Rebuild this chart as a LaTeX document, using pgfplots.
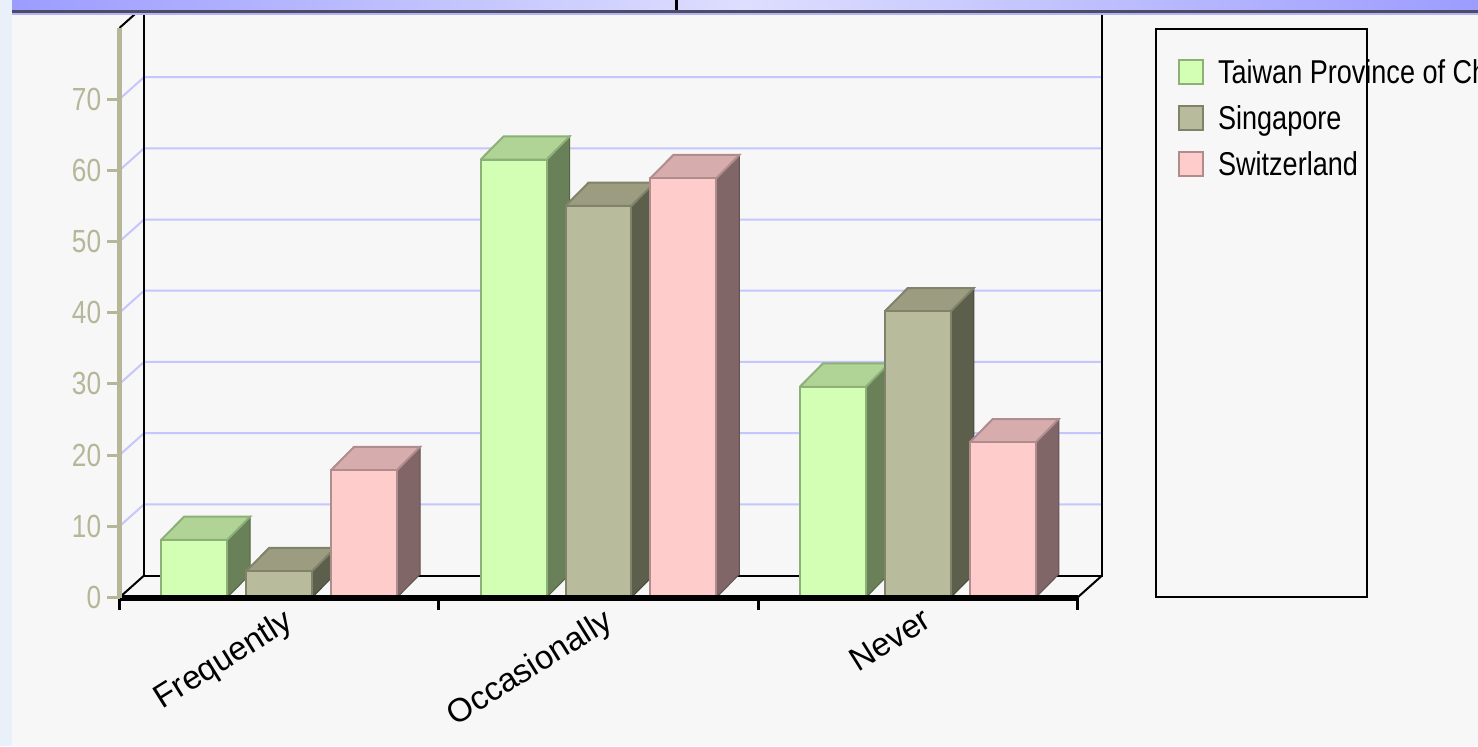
\documentclass[border=0pt]{standalone}
\usepackage{pgfplots}
\pgfplotsset{compat=1.18}
\usepackage{fontspec}
\setmainfont{Liberation Sans}
\newfontfamily\condfont{Liberation Sans}[FakeStretch=0.82]
\newcommand\legfont{\condfont\fontsize{16.5pt}{18pt}\selectfont}
\newcommand\tickfont{\condfont\fontsize{16pt}{18pt}\selectfont}
\newcommand\catfont{\fontsize{16.5pt}{18pt}\selectfont}

\definecolor{bgc}{HTML}{F7F7F7}
\definecolor{leftc}{HTML}{EAF0FA}
\definecolor{topA}{HTML}{9C9CFF}
\definecolor{topB}{HTML}{DEDEFF}
\definecolor{darkl}{HTML}{4C4C64}
\definecolor{lightl}{HTML}{B4B4F4}
\definecolor{tanc}{HTML}{B6B698}
\definecolor{gridc}{HTML}{C6C6FF}

\definecolor{twF}{HTML}{D2FFB4}
\definecolor{twT}{HTML}{B0D496}
\definecolor{twS}{HTML}{6A8058}
\definecolor{twE}{HTML}{8CB078}
\definecolor{sgF}{HTML}{B8BB9C}
\definecolor{sgT}{HTML}{9C9C80}
\definecolor{sgS}{HTML}{5C5F4B}
\definecolor{sgE}{HTML}{80826A}
\definecolor{swF}{HTML}{FFCCCC}
\definecolor{swT}{HTML}{D6ACAC}
\definecolor{swS}{HTML}{806666}
\definecolor{swE}{HTML}{B08C8C}

% 3D bar: center, value, front, top, side, edge
\newcommand\tdbar[6]{%
 \pgfmathsetmacro\xl{#1-0.1033}%
 \pgfmathsetmacro\xr{#1+0.1033}%
 \pgfmathsetmacro\xld{#1-0.1033+0.072}%
 \pgfmathsetmacro\xrd{#1+0.1033+0.072}%
 \pgfmathsetmacro\vt{#2+3.27}%
 \edef\doplot{%
  \noexpand\addplot[forget plot, fill=#5, draw=#5!80!black, line width=0.5pt] coordinates {(\xr,0) (\xrd,3.27) (\xrd,\vt) (\xr,#2) (\xr,0)};
  \noexpand\addplot[forget plot, fill=#4, draw=#6, line width=1pt] coordinates {(\xl,#2) (\xr,#2) (\xrd,\vt) (\xld,\vt) (\xl,#2)};
  \noexpand\addplot[forget plot, fill=#3, draw=#6, line width=1pt] coordinates {(\xl,0) (\xr,0) (\xr,#2) (\xl,#2) (\xl,0)};
 }\doplot}

\begin{document}
\begin{tikzpicture}
\useasboundingbox (0,0) rectangle (739pt,373pt);
\clip (0,0) rectangle (739pt,373pt);
\fill[bgc] (0,0) rectangle (739pt,373pt);
\fill[leftc] (0,0) rectangle (6pt,373pt);
\begin{axis}[
  at={(59.75pt,74.25pt)}, anchor=south west,
  scale only axis, width=479pt, height=284.8pt,
  xmin=-0.5, xmax=2.5, ymin=0, ymax=80,
  clip=false, axis on top,
  axis x line*=bottom, axis y line*=left,
  x axis line style={-, black, line width=3pt},
  y axis line style={-, tanc, line width=2.5pt},
  xtick={-0.5,0.5,1.5,2.5}, xticklabels={},
  ytick={0,10,...,70},
  tick align=outside, major tick length=6pt,
  every x tick/.style={black, line width=1.5pt},
  every y tick/.style={tanc, line width=1.5pt},
  yticklabel style={font=\tickfont, text=tanc, inner sep=0pt, xshift=-3pt},
  /pgf/number format/assume math mode=true,
  legend style={at={(1.105,0.9454)}, anchor=north west, draw=none, fill=none,
    inner sep=0pt, outer sep=0pt, font=\legfont, row sep=8pt, column sep=7pt,
    nodes={inner sep=0pt, text height=12pt, text depth=3pt}},
  legend cell align=left,
  legend image code/.code={\draw[#1, line width=1pt] (0.5pt,-5pt) rectangle (12.5pt,7pt);},
]
% back wall grid lines
\addplot[forget plot, gridc, line width=1pt] coordinates {(-0.5,10) (-0.423,13.09) (2.577,13.09)};
\addplot[forget plot, gridc, line width=1pt] coordinates {(-0.5,20) (-0.423,23.09) (2.577,23.09)};
\addplot[forget plot, gridc, line width=1pt] coordinates {(-0.5,30) (-0.423,33.09) (2.577,33.09)};
\addplot[forget plot, gridc, line width=1pt] coordinates {(-0.5,40) (-0.423,43.09) (2.577,43.09)};
\addplot[forget plot, gridc, line width=1pt] coordinates {(-0.5,50) (-0.423,53.09) (2.577,53.09)};
\addplot[forget plot, gridc, line width=1pt] coordinates {(-0.5,60) (-0.423,63.09) (2.577,63.09)};
\addplot[forget plot, gridc, line width=1pt] coordinates {(-0.5,70) (-0.423,73.09) (2.577,73.09)};
% back frame
\addplot[forget plot, black, line width=1pt] coordinates {(-0.423,84) (-0.423,3.09) (2.577,3.09) (2.577,84)};
\addplot[forget plot, black, line width=1pt] coordinates {(-0.5,0) (-0.423,3.09)};
\addplot[forget plot, black, line width=1pt] coordinates {(2.5,0) (2.577,3.09)};
\addplot[forget plot, black, line width=1pt] coordinates {(-0.5,80) (-0.423,83.09)};
% bars
\tdbar{-0.266}{8.1}{twF}{twT}{twS}{twE}
\tdbar{0}{3.7}{sgF}{sgT}{sgS}{sgE}
\tdbar{0.266}{17.9}{swF}{swT}{swS}{swE}
\tdbar{0.734}{61.5}{twF}{twT}{twS}{twE}
\tdbar{1}{55.0}{sgF}{sgT}{sgS}{sgE}
\tdbar{1.266}{58.9}{swF}{swT}{swS}{swE}
\tdbar{1.734}{29.6}{twF}{twT}{twS}{twE}
\tdbar{2}{40.2}{sgF}{sgT}{sgS}{sgE}
\tdbar{2.266}{21.8}{swF}{swT}{swS}{swE}
% category labels
\node[rotate=32, anchor=north east, inner sep=0pt, font=\catfont] at (axis cs:0.01,-1.2) {Frequently};
\node[rotate=32, anchor=north east, inner sep=0pt, font=\catfont] at (axis cs:1.01,-1.2) {Occasionally};
\node[rotate=32, anchor=north east, inner sep=0pt, font=\catfont] at (axis cs:2.01,-1.2) {Never};
% legend
\addlegendimage{fill=twF, draw=twE}
\addlegendentry{Taiwan Province of China}
\addlegendimage{fill=sgF, draw=sgE}
\addlegendentry{Singapore}
\addlegendimage{fill=swF, draw=swE}
\addlegendentry{Switzerland}
\end{axis}
\begin{scope}[shift={(0pt,373pt)}, x=0.5pt, y=-0.5pt]
  \shade[left color=topA, right color=topA, middle color=topB] (12,0) rectangle (1478,10);
  \fill[darkl] (12,10) rectangle (1478,13);
  \fill[lightl] (12,13) rectangle (1478,15);
  \fill[black] (675,0) rectangle (678,10);
  \draw[black, line width=1pt] (1156,29) rectangle (1367,597);
\end{scope}
\end{tikzpicture}
\end{document}
